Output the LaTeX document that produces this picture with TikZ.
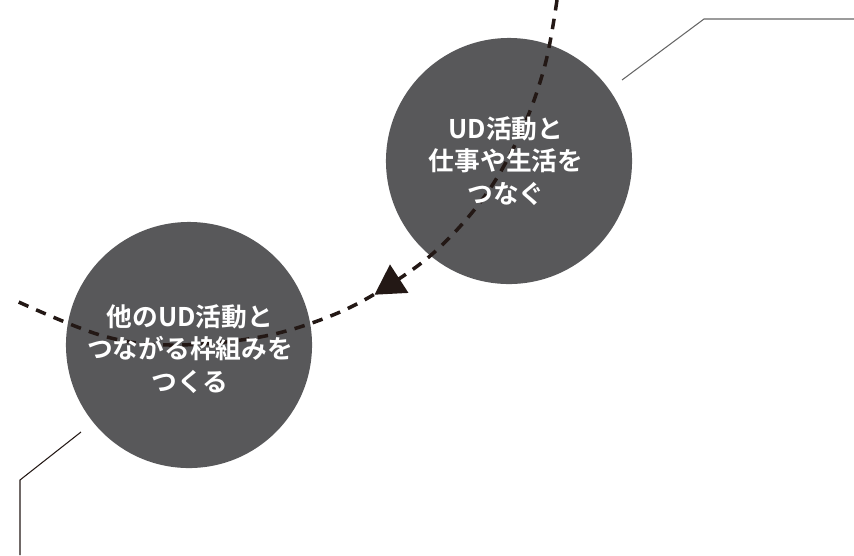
\documentclass[tikz,border=0pt]{standalone}
\usepackage{fontspec}
\newfontfamily\jpfont{Noto Sans CJK JP Bold}
\usetikzlibrary{shapes.geometric}
\definecolor{udgray}{HTML}{58585A}
\definecolor{udblack}{HTML}{231815}
\definecolor{leadgray}{HTML}{666666}

\tikzset{
	udcircle/.style={circle, fill=udgray, minimum size=6.15cm, inner sep=0pt},
	udtext/.style={text=white, font=\jpfont\fontsize{18.3}{23}\selectfont, align=center},
	orbit/.style={udblack, line width=2.5pt, dash pattern=on 7.5pt off 6pt},
	leader/.style={line width=0.75pt}
}

\begin{document}
\begin{tikzpicture}[x=0.025cm, y=-0.025cm]
	\useasboundingbox (0,0) rectangle (854,555);

	\node [udcircle] (link) at (509,161) {};
	\node [udcircle] (frame) at (189,345) {};

	% dashed path through both circles
	\draw [orbit] plot [smooth, tension=0.6] coordinates {(557,0) (545,65) (522,130) (487,193) (440,247) (391,284) (333,315) (260,337) (170,345) (100,335) (12,299)};
	\node [regular polygon, regular polygon sides=3, fill=udblack, minimum size=0.98cm, inner sep=0pt, rotate=3] (tip) at (391,284) {};

	\node [udtext] (linktext) at (506,161) {UD活動と\\仕事や生活を\\つなぐ};
	\node [udtext] (frametext) at (190,349) {他のUD活動と\\つながる枠組みを\\つくる};

	% leader lines
	\coordinate (linkleader) at (622,80);
	\coordinate (frameleader) at (81,432);
	\draw [leader, leadgray] (linkleader) -- (704,19) -- (854,19);
	\draw [leader, udblack] (frameleader) -- (20,480) -- (20,555);
\end{tikzpicture}
\end{document}
